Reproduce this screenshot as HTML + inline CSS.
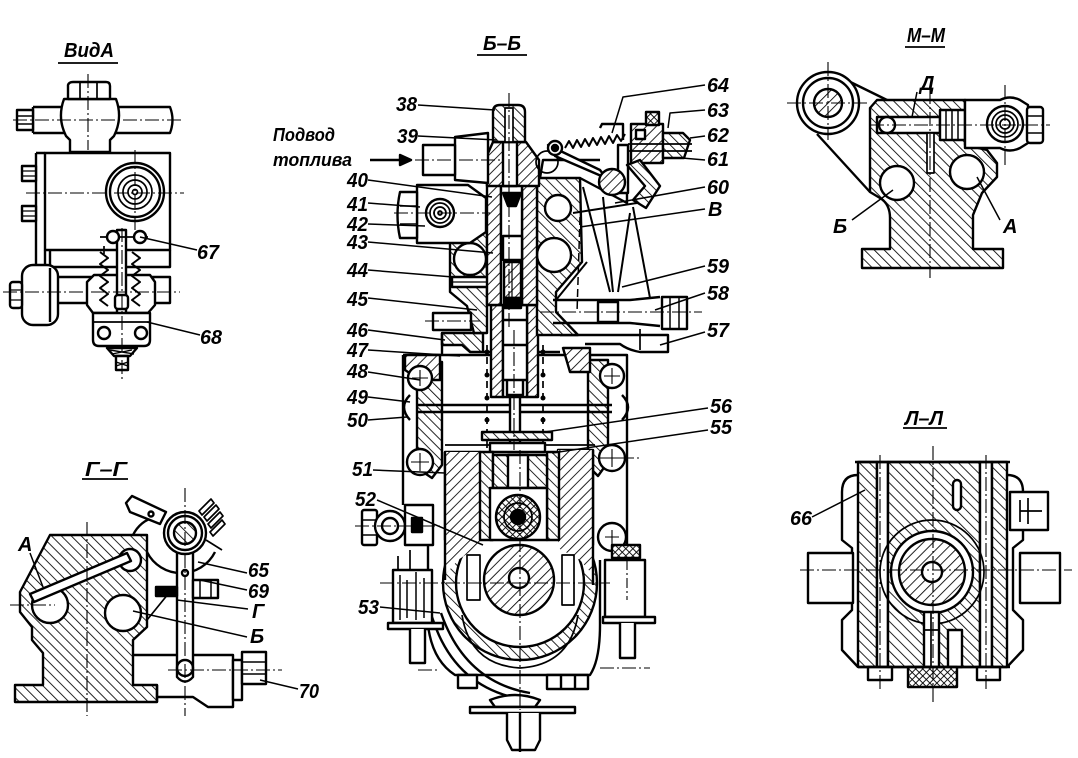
<!DOCTYPE html>
<html><head><meta charset="utf-8"><style>
html,body{margin:0;padding:0;background:#fff;}
svg{display:block;}
text{font-family:"Liberation Sans",sans-serif;font-style:italic;font-weight:bold;fill:#000;stroke:none;}
.l{font-size:20px;}
.s{font-size:18px;}
</style></head><body>
<svg width="1078" height="758" viewBox="0 0 1078 758" xmlns="http://www.w3.org/2000/svg">
<defs>
<pattern id="h" patternUnits="userSpaceOnUse" width="7" height="7" patternTransform="rotate(-45)"><rect width="7" height="7" fill="#fff"/><line x1="0" y1="0" x2="0" y2="7" stroke="#000" stroke-width="1.7"/></pattern>
<pattern id="g" patternUnits="userSpaceOnUse" width="7" height="7" patternTransform="rotate(45)"><rect width="7" height="7" fill="#fff"/><line x1="0" y1="0" x2="0" y2="7" stroke="#000" stroke-width="1.7"/></pattern>
<pattern id="x" patternUnits="userSpaceOnUse" width="5" height="5" patternTransform="rotate(45)"><rect width="5" height="5" fill="#fff"/><line x1="0" y1="0" x2="0" y2="5" stroke="#000" stroke-width="1.8"/><line x1="0" y1="0" x2="5" y2="0" stroke="#000" stroke-width="1.8"/></pattern>
</defs>

<g fill="none" stroke="#000" stroke-width="2.4" stroke-linejoin="round">

<!-- ================= ВИД А ================= -->
<line x1="58" y1="63" x2="118" y2="63" stroke-width="1.8"/>
<path d="M33 107 H64 M33 133 H66 M33 107 V133 M116 107 H170 Q175 120 170 133 H114" fill="#fff"/>
<rect x="17" y="110" width="16" height="20" fill="#fff"/>
<path d="M17 116 H33 M17 124 H33" stroke-width="1.4"/>
<path d="M64 99 H116 Q123 118 114 136 L110 140 V152 H70 V140 L66 136 Q57 118 64 99 Z" fill="#fff"/>
<path d="M68 85 Q69 82 73 82 H106 Q110 82 110 86 V99 H68 Z" fill="#fff"/>
<path d="M80 82 V99 M97 82 V99" stroke-width="1.7"/>
<rect x="45" y="153" width="125" height="97" fill="#fff"/>
<path d="M36 153 H45 M36 153 V268 M45 250 V268"/>
<rect x="22" y="166" width="14" height="15" fill="#fff"/>
<rect x="22" y="206" width="14" height="15" fill="#fff"/>
<path d="M22 171 H36 M22 176 H36 M22 211 H36 M22 216 H36" stroke-width="1.2"/>
<circle cx="135" cy="192" r="29" fill="#fff"/>
<circle cx="135" cy="192" r="25"/>
<circle cx="135" cy="192" r="17" stroke-width="1.7"/>
<circle cx="135" cy="192" r="12" stroke-width="1.7"/>
<circle cx="135" cy="192" r="7" stroke-width="1.7"/>
<circle cx="135" cy="192" r="2.5" stroke-width="1.7"/>
<path d="M50 250 V267 H170 V250"/>
<rect x="55" y="277" width="115" height="26" fill="#fff"/>
<line x1="153" y1="277" x2="153" y2="303"/>
<rect x="22" y="265" width="36" height="60" rx="11" fill="#fff"/>
<path d="M50 268 V322"/>
<rect x="10" y="282" width="12" height="26" rx="3" fill="#fff"/>
<path d="M10 290 H22 M10 300 H22" stroke-width="1.2"/>
<path d="M87 282 L94 275 H150 L155 282 V305 L148 313 H93 L87 305 Z" fill="#fff"/>
<path d="M100 252 L108 258 L100 264 L108 270 L100 276 L108 282 L100 288 L108 294 L100 300 L108 306" stroke-width="2"/>
<path d="M132 252 L140 258 L132 264 L140 270 L132 276 L140 282 L132 288 L140 294 L132 300 L140 306" stroke-width="2"/>
<path d="M104 250 H136 M104 246 V254" stroke-width="1.7"/>
<rect x="117" y="230" width="9" height="85" fill="#fff"/>
<path d="M100 237 H148" stroke-width="1.7"/>
<circle cx="113" cy="237" r="6" fill="#fff"/>
<circle cx="140" cy="237" r="6" fill="#fff"/>
<rect x="115" y="295" width="13" height="14" rx="3" fill="#fff"/>
<path d="M93 313 H150 V340 Q150 346 144 346 H99 Q93 346 93 340 Z" fill="#fff"/>
<path d="M93 322 H150" stroke-width="1.7"/>
<circle cx="104" cy="333" r="6"/>
<circle cx="141" cy="333" r="6"/>
<path d="M107 348 H137 L130 356 H114 Z" fill="#fff"/>
<path d="M110 350 L134 354 M112 354 L132 350" stroke-width="1.4"/>
<rect x="116" y="356" width="12" height="14" fill="#fff"/>
<path d="M116 362 L128 366 M116 366 L128 362" stroke-width="1.4"/>
<g stroke-width="1.1" stroke-dasharray="14 3 2 3">
<path d="M88 74 V150 M13 120 H182 M26 193 H184 M135 150 V232 M3 292 H180 M122 228 V382"/>
</g>
<path d="M140 237 L197 250 M147 322 L200 335" stroke-width="1.5"/>

<!-- ================= Г-Г ================= -->
<line x1="82" y1="479" x2="128" y2="479" stroke-width="1.8"/>
<path fill="url(#h)" d="M50 535 H147 V627 L133 640 V685 H157 V702 H15 V685 H43 V653 L32 640 V627 L20 612 V592 Z"/>
<circle cx="50" cy="605" r="18" fill="#fff"/>
<circle cx="123" cy="613" r="18" fill="#fff"/>
<circle cx="130" cy="560" r="11" fill="#fff"/>
<path d="M30 594 L127 553 L131 561 L34 602 Z" fill="#fff"/>
<path d="M133 535 Q140 521 155 517 M147 552 A38 38 0 0 0 215 552"/>
<path d="M147 620 L173 588" stroke-width="1.7"/>
<path d="M126 503 L132 496 L166 512 L160 524 L130 512 Z" fill="#fff"/>
<circle cx="151" cy="514" r="2.5"/>
<path d="M177 548 V677 Q185 686 193 677 V548" fill="#fff"/>
<circle cx="185" cy="573" r="3"/>
<circle cx="185" cy="533" r="21" fill="#fff"/>
<circle cx="185" cy="533" r="17"/>
<circle cx="185" cy="533" r="11" fill="url(#h)"/>
<path d="M199 511 L211 499 L214 503 L202 515 Z M204 517 L216 505 L219 509 L207 521 Z M208 524 L220 512 L223 516 L211 528 Z M210 532 L222 520 L225 524 L213 536 Z" fill="#fff" stroke-width="1.7"/>
<path d="M206 540 L222 550" stroke-width="1.7"/>
<rect x="193" y="580" width="25" height="18" fill="#fff"/>
<path d="M200 580 V598 M211 580 V598" stroke-width="1.5"/>
<rect x="156" y="587" width="21" height="9" fill="#000"/>
<path d="M133 655 H177 M193 655 H233 V707 H208 L193 697 H157 V702" fill="none"/>
<path d="M157 685 V697"/>
<circle cx="185" cy="668" r="8"/>
<rect x="233" y="660" width="9" height="40" fill="#fff"/>
<rect x="242" y="652" width="24" height="32" fill="#fff"/>
<path d="M242 662 H266 M242 674 H266" stroke-width="1.4"/>
<g stroke-width="1.1" stroke-dasharray="14 3 2 3">
<path d="M87 522 V716 M10 605 H55 M185 488 V716 M168 670 H282"/>
</g>
<path d="M30 553 L43 587 M198 562 L247 573 M200 580 L247 590 M177 600 L248 609 M133 611 L247 637 M260 680 L298 689" stroke-width="1.5"/>

<!-- ================= М-М ================= -->
<line x1="905" y1="47" x2="945" y2="47" stroke-width="1.8"/>
<path d="M830 72 L887 100 M817 134 L870 192"/>
<path fill="url(#h)" d="M877 100 H965 V145 L987 150 L997 163 V177 L982 193 L973 215 V249 H1003 V268 H862 V249 H890 V218 Q890 204 880 198 L870 192 V108 Z"/>
<circle cx="897" cy="183" r="17" fill="#fff"/>
<circle cx="967" cy="172" r="17" fill="#fff"/>
<rect x="877" y="117" width="63" height="16" fill="#fff"/>
<circle cx="887" cy="125" r="8" fill="#fff"/>
<rect x="927" y="133" width="7" height="40" fill="#fff" stroke-width="1.7"/>
<rect x="940" y="110" width="25" height="30" fill="#fff"/>
<path d="M946 110 V140 M952 110 V140 M958 110 V140" stroke-width="1.5"/>
<path d="M965 100 H1000 Q1010 95 1020 100 L1028 105 V143 L1020 148 Q1010 153 1000 148 H965 Z" fill="#fff"/>
<rect x="1027" y="107" width="16" height="36" rx="3" fill="#fff"/>
<path d="M1027 116 H1043 M1027 133 H1043" stroke-width="1.4"/>
<circle cx="1005" cy="124" r="18"/>
<circle cx="1005" cy="124" r="13" stroke-width="1.7"/>
<circle cx="1005" cy="124" r="9" stroke-width="1.7"/>
<circle cx="1005" cy="124" r="5" stroke-width="1.7"/>
<circle cx="828" cy="103" r="31" fill="#fff"/>
<circle cx="828" cy="103" r="25"/>
<circle cx="828" cy="103" r="14" fill="url(#g)"/>
<g stroke-width="1.1" stroke-dasharray="14 3 2 3">
<path d="M787 103 H870 M870 125 H1050 M828 62 V140 M1005 85 V165 M930 90 V278"/>
</g>
<path d="M917 92 L912 117 M852 220 L893 190 M1000 220 L977 177" stroke-width="1.5"/>

<!-- ================= Л-Л ================= -->
<line x1="903" y1="428" x2="947" y2="428" stroke-width="1.8"/>
<path d="M858 475 Q842 475 842 492 V540 L852 548 V610 L842 620 V650 L858 667" fill="#fff"/>
<path d="M1007 475 Q1023 475 1023 492 V540 L1013 548 V610 L1023 620 V650 L1007 667" fill="#fff"/>
<rect x="808" y="553" width="45" height="50" fill="#fff"/>
<rect x="1020" y="553" width="40" height="50" fill="#fff"/>
<rect x="858" y="462" width="19" height="205" fill="url(#h)"/>
<rect x="877" y="462" width="11" height="205" fill="#fff"/>
<rect x="888" y="462" width="92" height="205" fill="url(#h)"/>
<rect x="980" y="462" width="12" height="205" fill="#fff"/>
<rect x="992" y="462" width="15" height="205" fill="url(#h)"/>
<path d="M855 462 H1010"/>
<circle cx="932" cy="572" r="52" stroke-width="1.7"/>
<circle cx="932" cy="572" r="41" fill="#fff"/>
<circle cx="932" cy="572" r="33" fill="url(#g)"/>
<circle cx="932" cy="572" r="10" fill="#fff"/>
<rect x="953" y="480" width="8" height="30" rx="4" fill="#fff"/>
<rect x="1010" y="492" width="38" height="38" fill="#fff"/>
<path d="M1020 500 V522 M1028 498 V524 M1020 511 H1042" stroke-width="1.7"/>
<rect x="924" y="612" width="15" height="55" fill="#fff"/>
<path d="M924 630 H939 M931 612 V667" stroke-width="1.7"/>
<rect x="948" y="630" width="14" height="37" fill="#fff"/>
<rect x="908" y="667" width="49" height="20" fill="url(#x)"/>
<rect x="868" y="667" width="24" height="13" fill="#fff"/>
<rect x="977" y="667" width="23" height="13" fill="#fff"/>
<path d="M858 667 H1010"/>
<g stroke-width="1.1" stroke-dasharray="14 3 2 3">
<path d="M800 570 H1072 M933 446 V705 M880 455 V690 M986 455 V690"/>
</g>
<path d="M812 517 L865 490" stroke-width="1.5"/>

<!-- ================= Б-Б ================= -->
<line x1="477" y1="55" x2="527" y2="55" stroke-width="1.8"/>
<path d="M370 160 H402" stroke-width="2.6"/>
<path d="M400 155 L411 160 L400 165 Z" fill="#000"/>

<path d="M403 355 H627 V562 M403 355 V505" fill="#fff"/>
<path fill="url(#h)" d="M417 362 H442 V465 L432 478 L417 468 Z"/>
<path fill="url(#h)" d="M588 360 H608 V462 L598 476 L588 466 Z"/>
<path fill="url(#g)" d="M405 355 H440 V380 H420 L405 370 Z"/>
<path d="M418 405 H612 M418 412 H612"/>
<path d="M410 395 Q398 407 410 420 M622 395 Q634 407 622 420"/>
<circle cx="420" cy="378" r="12" fill="#fff"/>
<circle cx="612" cy="376" r="12" fill="#fff"/>
<circle cx="420" cy="462" r="13" fill="#fff"/>
<circle cx="612" cy="458" r="13" fill="#fff"/>
<path d="M412 378 H428 M420 370 V386 M604 376 H620 M612 368 V384 M411 462 H429 M420 453 V471 M603 458 H621 M612 449 V467" stroke-width="1.1"/>
<path d="M445 445 H595" stroke-width="1.7"/>

<path fill="url(#h)" d="M442 333 H483 V352 H470 L462 345 H442 Z"/>
<path fill="url(#g)" d="M563 348 H590 V372 H570 Z"/>
<path d="M442 333 V355 M483 352 H560 M560 335 H668 V352 H640 Q628 350 620 344 H585"/>

<rect x="491" y="305" width="12" height="92" fill="url(#g)"/>
<rect x="527" y="305" width="11" height="92" fill="url(#g)"/>
<rect x="503" y="305" width="24" height="92" fill="#fff"/>
<path d="M503 320 H527 M503 345 H527 M503 380 H527 M507 380 V395 H523 V380"/>
<rect x="510" y="397" width="10" height="48" fill="#fff"/>
<path d="M487 345 V450 M543 345 V450" stroke-width="1.7" stroke-dasharray="7 5"/>
<g fill="#000" stroke="none">
<circle cx="487" cy="352" r="2.5"/><circle cx="487" cy="375" r="2.5"/><circle cx="487" cy="398" r="2.5"/><circle cx="487" cy="420" r="2.5"/>
<circle cx="543" cy="352" r="2.5"/><circle cx="543" cy="375" r="2.5"/><circle cx="543" cy="398" r="2.5"/><circle cx="543" cy="420" r="2.5"/>
</g>
<rect x="482" y="432" width="70" height="8" fill="url(#h)"/>
<rect x="490" y="443" width="55" height="9" fill="#fff"/>

<path fill="url(#g)" d="M445 452 H480 V540 H445 Z"/>
<path fill="url(#g)" d="M558 450 H593 V545 H558 Z"/>
<circle cx="520" cy="583" r="77" fill="url(#h)"/>
<circle cx="520" cy="583" r="64" fill="#fff"/>
<path fill="url(#g)" d="M445 452 H480 V545 L458 560 L445 575 Z" stroke="none"/>
<path fill="url(#g)" d="M558 450 H593 V575 L580 560 L558 548 Z" stroke="none"/>
<path d="M445 452 V580 M593 450 V585"/>
<rect x="480" y="452" width="13" height="88" fill="url(#h)"/>
<rect x="547" y="452" width="12" height="88" fill="url(#h)"/>
<rect x="493" y="455" width="54" height="33" fill="url(#h)"/>
<rect x="508" y="455" width="20" height="33" fill="#fff"/>
<rect x="490" y="488" width="57" height="52" fill="#fff"/>
<circle cx="518" cy="517" r="22" fill="url(#x)"/>
<circle cx="518" cy="517" r="14" stroke-width="1.7"/>
<circle cx="518" cy="517" r="7" fill="#000"/>
<path d="M462 615 Q470 665 520 668 Q570 665 578 615" stroke-width="1.7"/>
<circle cx="519" cy="580" r="35" fill="url(#g)"/>
<circle cx="519" cy="578" r="10" fill="#fff"/>
<path d="M467 555 H480 V600 H467 Z" stroke-width="1.7"/>
<path d="M562 555 H574 V605 H562 Z" stroke-width="1.7"/>

<path d="M428 545 V625 Q432 660 455 675 H590 Q600 660 600 625 V560"/>
<path d="M432 617 Q455 690 527 700 M441 613 Q465 682 530 693"/>
<rect x="458" y="675" width="19" height="13" fill="#fff"/>
<rect x="547" y="675" width="41" height="14" fill="#fff"/>
<path d="M561 675 V689 M575 675 V689"/>
<path d="M490 700 Q515 690 540 700 L535 707 H495 Z" fill="#fff"/>
<rect x="470" y="707" width="105" height="6" fill="#fff"/>
<path d="M507 713 V740 L512 750 H535 L540 740 V713" fill="#fff"/>
<path d="M520 713 V752"/>

<rect x="362" y="510" width="15" height="35" rx="2" fill="#fff"/>
<path d="M362 520 H377 M362 535 H377" stroke-width="1.4"/>
<circle cx="390" cy="526" r="15" fill="#fff"/>
<circle cx="390" cy="526" r="8"/>
<rect x="405" y="505" width="28" height="40" fill="#fff"/>
<rect x="412" y="518" width="10" height="14" fill="#000"/>
<rect x="393" y="570" width="39" height="53" fill="#fff"/>
<path d="M400 575 V620 M407 580 V618 M416 572 V620 M424 578 V618" stroke-width="1.5"/>
<rect x="388" y="623" width="55" height="6" fill="#fff"/>
<path d="M410 629 V663 H425 V629" fill="#fff"/>
<path d="M398 556 V570 M410 550 V570" stroke-width="1.7"/>
<circle cx="612" cy="537" r="14" fill="#fff"/>
<path d="M605 537 H619 M612 530 V544" stroke-width="1.1"/>
<rect x="612" y="545" width="28" height="13" fill="url(#x)"/>
<rect x="605" y="560" width="40" height="57" fill="#fff"/>
<rect x="603" y="617" width="52" height="6" fill="#fff"/>
<path d="M620 623 V658 H635 V623" fill="#fff"/>
<path d="M627 560 V600" stroke-width="1.1" stroke-dasharray="10 3 2 3"/>

<path fill="url(#h)" d="M537 178 H580 L582 262 L556 292 V312 L578 335 H537 Z"/>
<circle cx="558" cy="208" r="13" fill="#fff"/>
<circle cx="554" cy="255" r="17" fill="#fff"/>
<path fill="url(#h)" d="M462 215 L487 200 V333 H474 L467 306 L450 292 V244 Z"/>
<circle cx="470" cy="259" r="16" fill="#fff"/>
<rect x="452" y="277" width="36" height="10" fill="#fff"/>
<path d="M452 282 H488" stroke-width="1.2"/>
<rect x="487" y="185" width="14" height="120" fill="url(#g)"/>
<rect x="522" y="185" width="15" height="120" fill="url(#g)"/>
<rect x="501" y="185" width="21" height="120" fill="#fff"/>
<path d="M503 193 H521 L516 206 H508 Z" fill="#000"/>
<rect x="503" y="236" width="19" height="24" fill="#fff"/>
<rect x="504" y="262" width="17" height="36" fill="url(#g)"/>
<path d="M512 262 V298" stroke-width="1.2"/>
<rect x="504" y="298" width="17" height="10" fill="#000"/>
<path fill="url(#g)" d="M493 142 H526 L539 160 V186 H487 L485 160 Z"/>
<rect x="503" y="142" width="14" height="44" fill="#fff"/>
<path fill="url(#h)" d="M493 112 Q493 105 500 105 H518 Q525 105 525 112 V142 H493 Z"/>
<rect x="505" y="108" width="8" height="34" fill="#fff" stroke-width="1.7"/>
<path d="M455 137 L488 133 V183 L455 180 Z" fill="#fff"/>
<rect x="423" y="145" width="32" height="30" fill="#fff"/>
<path d="M417 185 H468 L486 198 V232 L470 243 H417 Z" fill="#fff"/>
<path d="M400 192 H417 V238 H400 Q395 215 400 192 Z" fill="#fff"/>
<path d="M400 206 H417 M400 224 H417" stroke-width="1.5"/>
<circle cx="440" cy="213" r="14"/>
<circle cx="440" cy="213" r="10" stroke-width="1.7"/>
<circle cx="440" cy="213" r="6" stroke-width="1.7"/>
<circle cx="440" cy="213" r="2" stroke-width="1.7"/>
<rect x="433" y="313" width="38" height="17" fill="#fff"/>
<path d="M540 178 L543 160 H600 M580 178 L627 203 V165"/>
<path d="M583 187 L610 292 M603 197 L613 292 M630 213 L618 292 M633 207 L650 298 M573 213 L637 203 M587 262 L556 300" stroke-width="2"/>
<path d="M580 217 L577 313" stroke-width="1.5" stroke-dasharray="8 4"/>
<path d="M548 145 L600 170 L606 178 L555 156 Z" fill="#fff"/>
<path d="M618 145 H628 V193 L618 193 Z" fill="#fff"/>
<circle cx="612" cy="182" r="13" fill="url(#g)"/>
<circle cx="547" cy="162" r="11" stroke-width="1.7"/>
<circle cx="555" cy="148" r="7" fill="#fff"/>
<circle cx="555" cy="148" r="3" fill="#000"/>
<path d="M600 128 L602 124 H623 V140"/>
<path d="M565 148 L569 141 L573 148 L577 140 L581 147 L585 139 L589 146 L593 138 L597 145 L601 137 L605 144 L609 136 L613 143 L617 135 L621 141 L625 134" stroke-width="2"/>
<rect x="631" y="124" width="32" height="39" fill="url(#g)"/>
<rect x="646" y="112" width="13" height="13" fill="url(#x)"/>
<rect x="636" y="130" width="9" height="9" fill="#fff"/>
<path d="M663 133 H683 L690 140 L684 158 H663 Z" fill="url(#h)"/>
<path d="M628 144 H692 M628 151 H692" stroke-width="1.7"/>
<path fill="url(#h)" d="M627 165 L640 160 L660 186 L646 208 L633 200 L645 186 Z"/>
<path d="M553 300 H630 L660 297 M553 323 H630 L660 326"/>
<rect x="598" y="302" width="20" height="20" fill="#fff"/>
<rect x="662" y="297" width="25" height="32" fill="#fff"/>
<path d="M670 297 V329 M679 297 V329" stroke-width="1.5"/>
<path d="M640 329 V350" stroke-width="1.7"/>

<g stroke-width="1.1" stroke-dasharray="14 3 2 3">
<path d="M509 93 V330 M514 330 V450 M520 450 V710 M415 160 H500 M394 213 H490 M425 321 H480 M540 312 H702 M355 526 H440 M598 458 H640 M380 583 H610 M418 670 H440 M600 668 H650"/>
</g>

<g stroke-width="1.5">
<path d="M418 105 L495 110 M418 136 L497 140 M368 180 L492 197 M368 203 L420 207 M368 224 L425 226 M368 242 L493 253 M368 270 L453 277 M368 298 L477 310 M368 330 L445 340 M368 350 L460 356 M368 372 L420 380 M368 397 L410 402 M368 420 L407 417 M373 470 L445 473 M377 500 L483 545 M380 607 L440 613"/>
<path d="M705 85 L623 97 L612 133 M705 110 L670 113 L668 128 M705 136 L690 138 M705 160 L682 158 M705 187 L615 203 M705 209 L580 227 M705 266 L622 287 M705 293 L655 310 M705 332 L660 345 M708 408 L545 432 M708 430 L552 453"/>
</g>
</g>

<g>
<text x="64" y="57" class="l" textLength="50" lengthAdjust="spacingAndGlyphs">ВидА</text>
<text x="197" y="259" class="l" textLength="22" lengthAdjust="spacingAndGlyphs">67</text>
<text x="200" y="344" class="l" textLength="22" lengthAdjust="spacingAndGlyphs">68</text>

<text x="85" y="476" class="l" textLength="42" lengthAdjust="spacingAndGlyphs">Г–Г</text>
<text x="18" y="551" class="l">А</text>
<text x="248" y="577" class="l" textLength="21" lengthAdjust="spacingAndGlyphs">65</text>
<text x="248" y="598" class="l" textLength="21" lengthAdjust="spacingAndGlyphs">69</text>
<text x="252" y="618" class="l">Г</text>
<text x="250" y="643" class="l">Б</text>
<text x="299" y="698" class="l" textLength="20" lengthAdjust="spacingAndGlyphs">70</text>

<text x="907" y="42" class="l" textLength="38" lengthAdjust="spacingAndGlyphs">М–М</text>
<text x="920" y="90" class="l">Д</text>
<text x="833" y="233" class="l">Б</text>
<text x="1003" y="233" class="l">А</text>

<text x="905" y="425" class="l" textLength="38" lengthAdjust="spacingAndGlyphs">Л–Л</text>
<text x="790" y="525" class="l" textLength="22" lengthAdjust="spacingAndGlyphs">66</text>

<text x="483" y="50" class="l" textLength="38" lengthAdjust="spacingAndGlyphs">Б–Б</text>
<text x="273" y="141" class="s" textLength="62" lengthAdjust="spacingAndGlyphs">Подвод</text>
<text x="273" y="166" class="s" textLength="79" lengthAdjust="spacingAndGlyphs">топлива</text>

<text x="396" y="111" class="l" textLength="21" lengthAdjust="spacingAndGlyphs">38</text>
<text x="397" y="143" class="l" textLength="21" lengthAdjust="spacingAndGlyphs">39</text>
<text x="347" y="187" class="l" textLength="21" lengthAdjust="spacingAndGlyphs">40</text>
<text x="347" y="211" class="l" textLength="21" lengthAdjust="spacingAndGlyphs">41</text>
<text x="347" y="231" class="l" textLength="21" lengthAdjust="spacingAndGlyphs">42</text>
<text x="347" y="249" class="l" textLength="21" lengthAdjust="spacingAndGlyphs">43</text>
<text x="347" y="277" class="l" textLength="21" lengthAdjust="spacingAndGlyphs">44</text>
<text x="347" y="306" class="l" textLength="21" lengthAdjust="spacingAndGlyphs">45</text>
<text x="347" y="337" class="l" textLength="21" lengthAdjust="spacingAndGlyphs">46</text>
<text x="347" y="357" class="l" textLength="21" lengthAdjust="spacingAndGlyphs">47</text>
<text x="347" y="378" class="l" textLength="21" lengthAdjust="spacingAndGlyphs">48</text>
<text x="347" y="404" class="l" textLength="21" lengthAdjust="spacingAndGlyphs">49</text>
<text x="347" y="427" class="l" textLength="21" lengthAdjust="spacingAndGlyphs">50</text>
<text x="352" y="476" class="l" textLength="21" lengthAdjust="spacingAndGlyphs">51</text>
<text x="355" y="506" class="l" textLength="21" lengthAdjust="spacingAndGlyphs">52</text>
<text x="358" y="614" class="l" textLength="21" lengthAdjust="spacingAndGlyphs">53</text>

<text x="707" y="92" class="l" textLength="22" lengthAdjust="spacingAndGlyphs">64</text>
<text x="707" y="117" class="l" textLength="22" lengthAdjust="spacingAndGlyphs">63</text>
<text x="707" y="142" class="l" textLength="22" lengthAdjust="spacingAndGlyphs">62</text>
<text x="707" y="166" class="l" textLength="22" lengthAdjust="spacingAndGlyphs">61</text>
<text x="707" y="194" class="l" textLength="22" lengthAdjust="spacingAndGlyphs">60</text>
<text x="708" y="216" class="l">В</text>
<text x="707" y="273" class="l" textLength="22" lengthAdjust="spacingAndGlyphs">59</text>
<text x="707" y="300" class="l" textLength="22" lengthAdjust="spacingAndGlyphs">58</text>
<text x="707" y="337" class="l" textLength="22" lengthAdjust="spacingAndGlyphs">57</text>
<text x="710" y="413" class="l" textLength="22" lengthAdjust="spacingAndGlyphs">56</text>
<text x="710" y="434" class="l" textLength="22" lengthAdjust="spacingAndGlyphs">55</text>
</g>
</svg>
</body></html>
